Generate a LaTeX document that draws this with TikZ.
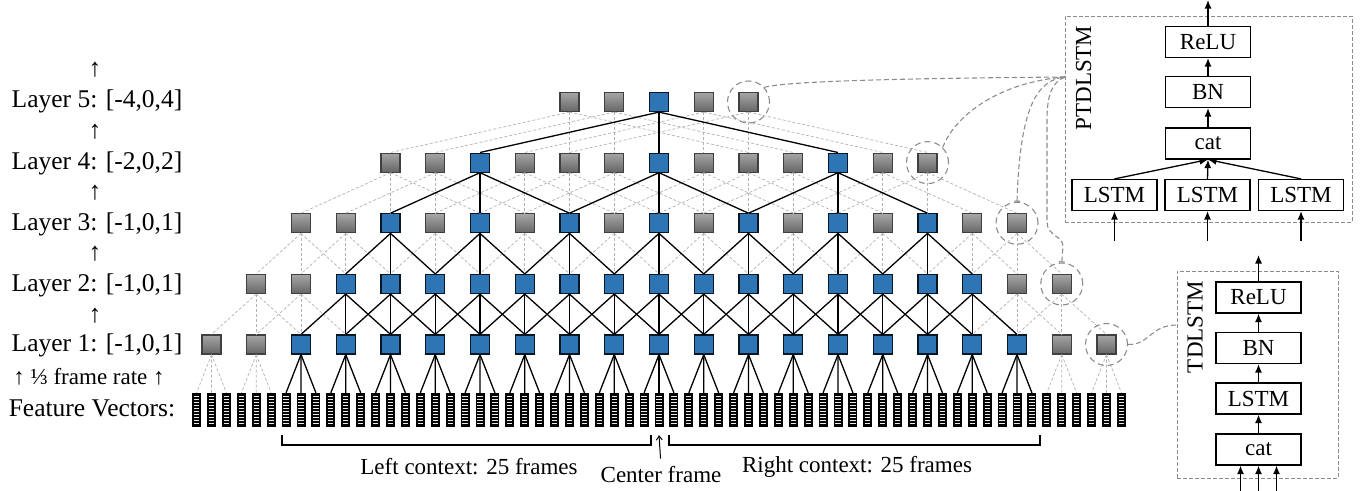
\documentclass[tikz,border=0pt]{standalone}
\usepackage{fontspec}
\setmainfont{Liberation Serif}
\usetikzlibrary{calc,arrows.meta}

\definecolor{cellblue}{RGB}{46,117,182}

\tikzset{
  cell/.style={rectangle, minimum size=19pt, inner sep=0pt, line width=1.2pt},
  bluecell/.style={cell, fill=cellblue, draw=black!80!cellblue},
  graycell/.style={cell, top color=black!35, bottom color=black!60, draw=black!75},
  fvec/.style={rectangle, minimum width=9pt, minimum height=34pt, inner sep=0pt, fill=black},
  uselink/.style={line width=1.3pt},
  idlelink/.style={line width=0.7pt, black!30, dash pattern=on 3pt off 2pt},
  ring/.style={circle, minimum size=42pt, inner sep=0pt, draw=black!45, line width=1.1pt, dash pattern=on 6pt off 4pt},
  wire/.style={draw=black!45, line width=1.1pt, dash pattern=on 5pt off 3pt},
  layerbox/.style={draw, line width=1.2pt, minimum width=85pt, minimum height=31pt, inner sep=0pt, font=\fontsize{23}{27}\selectfont},
  groupbox/.style={draw=black!45, line width=1pt, dash pattern=on 4pt off 2pt, inner sep=0pt},
  arr/.style={line width=1.3pt, -{Latex[length=8.5pt,width=7pt]}},
  lab/.style={inner sep=1pt, font=\fontsize{25.5}{30}\selectfont},
  sublab/.style={inner sep=1pt, font=\fontsize{23}{27}\selectfont}
}

\begin{document}
\begin{tikzpicture}[x=1pt,y=-1pt]
\useasboundingbox (0,0) rectangle (1367,490);

\foreach \j in {-31,...,31}{
  \node[fvec] (fv\j) at ({659+14.9167*\j},410) {};
  \foreach \k in {0,...,9}
    \draw[black!8, line width=1.3pt] ({659+14.9167*\j-2.6},{396.2+3.07*\k}) -- ++(5.2,0);
}

\foreach \i in {-10,-9,9,10} \node[graycell] (l1n\i) at ({659+44.75*\i},344.5) {};
\foreach \i in {-8,...,8} \node[bluecell] (l1n\i) at ({659+44.75*\i},344.5) {};
\foreach \i in {-9,-8,8,9} \node[graycell] (l2n\i) at ({659+44.75*\i},284) {};
\foreach \i in {-7,...,7} \node[bluecell] (l2n\i) at ({659+44.75*\i},284) {};
\foreach \i in {-8,-7,-5,-3,-1,1,3,5,7,8} \node[graycell] (l3n\i) at ({659+44.75*\i},223.3) {};
\foreach \i in {-6,-4,...,6} \node[bluecell] (l3n\i) at ({659+44.75*\i},223.3) {};
\foreach \i in {-6,-5,-3,-2,-1,1,2,3,5,6} \node[graycell] (l4n\i) at ({659+44.75*\i},162.6) {};
\foreach \i in {-4,0,4} \node[bluecell] (l4n\i) at ({659+44.75*\i},162.6) {};
\foreach \i in {-2,-1,1,2} \node[graycell] (l5n\i) at ({659+44.75*\i},102) {};
\node[bluecell] (l5n0) at (659,102) {};

\foreach \i in {-10,-9,9,10} \foreach \k in {-1,0,1}{
  \pgfmathtruncatemacro{\j}{3*\i+\k}
  \draw[idlelink] (l1n\i.south) -- (fv\j.north);
}
\foreach \i in {-9,-8,8,9} \foreach \k in {-1,0,1}{
  \pgfmathtruncatemacro{\j}{\i+\k}
  \draw[idlelink] (l2n\i.south) -- (l1n\j.north);
}
\foreach \i in {-8,-7,-5,-3,-1,1,3,5,7,8} \foreach \k in {-1,0,1}{
  \pgfmathtruncatemacro{\j}{\i+\k}
  \draw[idlelink] (l3n\i.south) -- (l2n\j.north);
}
\foreach \i in {-6,-5,-3,-2,-1,1,2,3,5,6} \foreach \k in {-2,0,2}{
  \pgfmathtruncatemacro{\j}{\i+\k}
  \draw[idlelink] (l4n\i.south) -- (l3n\j.north);
}
\foreach \i in {-2,-1,1,2} \foreach \k in {-4,0,4}{
  \pgfmathtruncatemacro{\j}{\i+\k}
  \draw[idlelink] (l5n\i.south) -- (l4n\j.north);
}

\foreach \i in {-8,...,8} \foreach \k in {-1,0,1}{
  \pgfmathtruncatemacro{\j}{3*\i+\k}
  \draw[uselink] (l1n\i.south) -- (fv\j.north);
}
\foreach \i in {-7,...,7} \foreach \k in {-1,0,1}{
  \pgfmathtruncatemacro{\j}{\i+\k}
  \draw[uselink] (l2n\i.south) -- (l1n\j.north);
}
\foreach \i in {-6,-4,...,6} \foreach \k in {-1,0,1}{
  \pgfmathtruncatemacro{\j}{\i+\k}
  \draw[uselink] (l3n\i.south) -- (l2n\j.north);
}
\foreach \i in {-4,0,4} \foreach \k in {-2,0,2}{
  \pgfmathtruncatemacro{\j}{\i+\k}
  \draw[uselink] (l4n\i.south) -- (l3n\j.north);
}
\foreach \k in {-4,0,4}
  \draw[uselink] (l5n0.south) -- (l4n\k.north);

\node[ring] (r5) at (l5n2) {};
\node[ring] (r4) at (l4n6) {};
\node[ring] (r3) at (l3n8) {};
\node[ring] (r2) at (l2n9) {};
\node[ring] (r1) at (l1n10) {};

\node[lab] (lay5) at (97,101) {Layer 5: [-4,0,4]};
\node[lab] (lay4) at (97,163) {Layer 4: [-2,0,2]};
\node[lab] (lay3) at (97,224) {Layer 3: [-1,0,1]};
\node[lab] (lay2) at (97,285) {Layer 2: [-1,0,1]};
\node[lab] (lay1) at (97,345) {Layer 1: [-1,0,1]};
\foreach \y [count=\n] in {70,132,193,254,316}
  \node[lab] (up\n) at (95,\y) {↑};
\node[sublab] (rate) at (89,377) {↑ ⅓ frame rate ↑};
\node[lab] (feat) at (92,408) {Feature Vectors:};

\draw[line width=1.1pt] (282,435) -- (282,445) -- (651,445) -- (651,435);
\draw[line width=1.1pt] (669,435) -- (669,445) -- (1040,445) -- (1040,435);
\node[sublab] (leftctx) at (469,467) {Left context: 25 frames};
\node[sublab] (ctr) at (661,475) {Center frame};
\node[sublab] (rightctx) at (857,467) {Right context: 25 frames};
\draw[line width=1pt, shorten <=7pt, -{Straight Barb[length=4pt,width=6pt]}] (ctr.north) -- ($(fv0.south)+(0,8)$);

\node[groupbox, minimum width=287pt, minimum height=206pt] (pbox) at (1208.5,119) {};
\node[layerbox] (prelu) at (1208,42) {ReLU};
\node[layerbox] (pbn) at (1208,92) {BN};
\node[layerbox] (pcat) at (1208,143.5) {cat};
\node[layerbox] (plstm1) at (1114.5,195) {LSTM};
\node[layerbox] (plstm2) at (1207.5,195) {LSTM};
\node[layerbox] (plstm3) at (1301,195) {LSTM};
\node[sublab, rotate=90] (plab) at (1083.5,78) {PTDLSTM};
\coordinate (pout) at (1208,0);
\foreach \n/\x in {1/1114.5,2/1207.5,3/1301}{
  \coordinate (pin\n) at (\x,241);
  \draw[arr] (pin\n) -- (plstm\n);
  \draw[arr] (plstm\n.north) -- (pcat.south);
}
\draw[arr] (pcat) -- (pbn);
\draw[arr] (pbn) -- (prelu);
\draw[arr] (prelu) -- (pout);

\node[groupbox, minimum width=161pt, minimum height=207pt] (tbox) at (1257.5,374.5) {};
\node[layerbox] (trelu) at (1258.5,297.5) {ReLU};
\node[layerbox] (tbn) at (1258.5,348) {BN};
\node[layerbox] (tlstm) at (1258.5,398.5) {LSTM};
\node[layerbox] (tcat) at (1258.5,449.5) {cat};
\node[sublab, rotate=90] (tlab) at (1195,327) {TDLSTM};
\coordinate (tout) at (1258.5,255);
\foreach \n/\x in {1/1240.5,2/1258.5,3/1276.5}{
  \coordinate (tin\n) at (\x,491);
  \draw[arr] (tin\n) -- (tin\n |- tcat.south);
}
\draw[arr] (tcat) -- (tlstm);
\draw[arr] (tlstm) -- (tbn);
\draw[arr] (tbn) -- (trelu);
\draw[arr] (trelu) -- (tout);

\coordinate (pjoin) at (1065,77);
\coordinate (tjoin) at (1177,325);
\draw[wire] (r5.43) .. controls (790,80) and (950,78) .. (pjoin);
\draw[wire] (r4.45) .. controls (955,115) and (1000,82) .. (pjoin);
\draw[wire, {Bar[width=6pt]}-] (r3.north) .. controls (1020,100) and (1040,80) .. (pjoin);
\draw[wire, {Bar[width=6pt]}-] (r2.north) -- (1063,246) .. controls (1063,236) and (1047,236) .. (1047,222) -- (1047,120) .. controls (1047,95) and (1052,82) .. (pjoin);
\draw[wire] (r1.east) .. controls (1150,345) and (1150,325) .. (tjoin);
\end{tikzpicture}
\end{document}
